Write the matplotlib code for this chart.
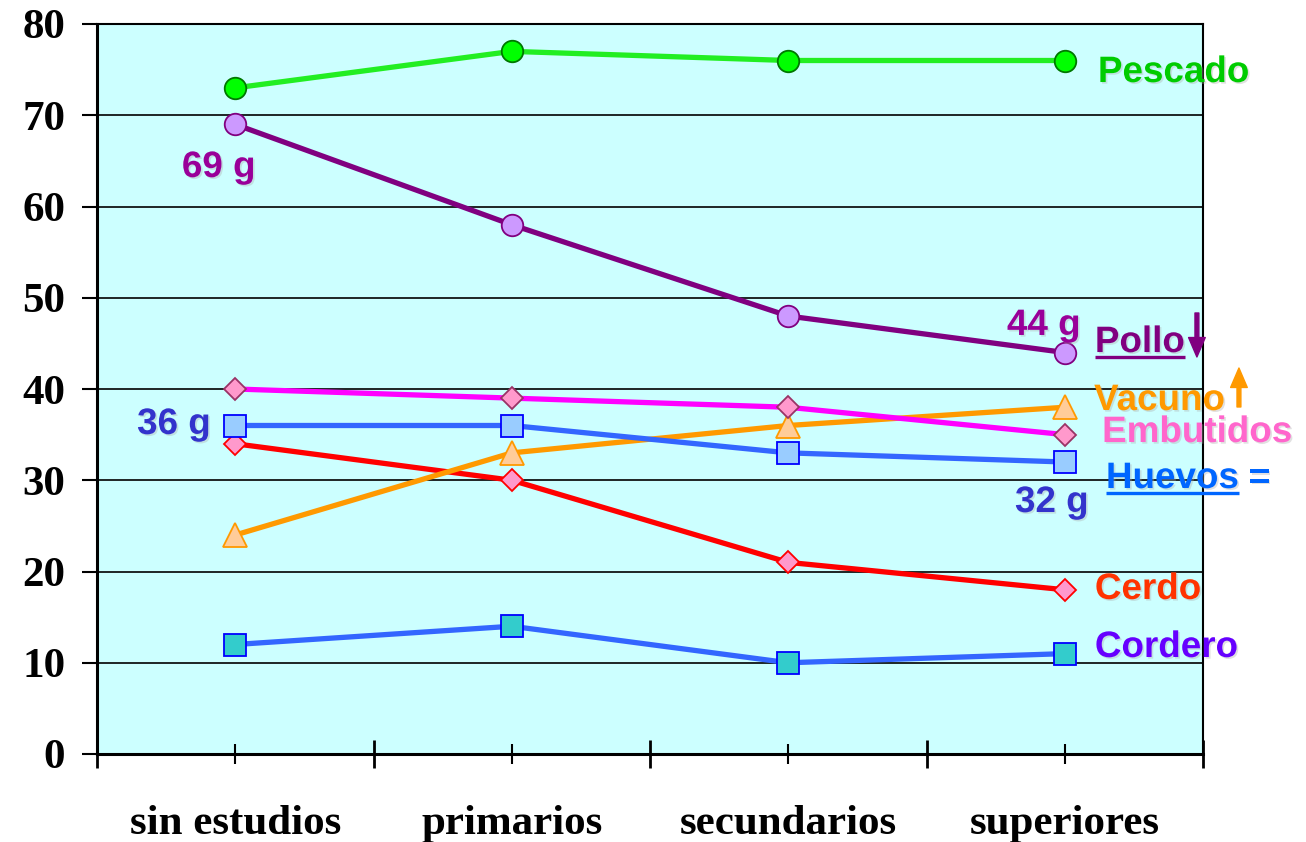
import matplotlib
matplotlib.use("Agg")
import matplotlib.pyplot as plt
import matplotlib.patheffects as pe
from matplotlib.ticker import FixedLocator, NullFormatter

# Consumo medio (g) por nivel de estudios
categorias = ["sin estudios", "primarios", "secundarios", "superiores"]
pescado = [73, 77, 76, 76]
pollo = [69, 58, 48, 44]
embutidos = [40, 39, 38, 35]
huevos = [36, 36, 33, 32]
vacuno = [24, 33, 36, 38]
cerdo = [34, 30, 21, 18]
cordero = [12, 14, 10, 11]
y_ticks = [0, 10, 20, 30, 40, 50, 60, 70, 80]

W, H, DPI = 1306, 842, 100
fig = plt.figure(figsize=(W / DPI, H / DPI), dpi=DPI)
ax = fig.add_axes([97 / W, (H - 754) / H, (1203 - 97) / W, (754 - 24) / H])
ax.set_facecolor("#CCFFFF")

x = [i + 0.5 for i in range(len(categorias))]

series = [
    # values, line colour, marker, face, edge, size
    (cordero, "#3366FF", "s", "#33CCCC", "#0000FF", 15.5),
    (cerdo, "#FF0000", "D", "#FF99CC", "#FF0000", 11.0),
    (vacuno, "#FF9900", "^", "#FFCC99", "#FF9900", 17.0),
    (huevos, "#3366FF", "s", "#99CCFF", "#0000FF", 15.5),
    (embutidos, "#FF00FF", "D", "#FF99CC", "#993366", 11.0),
    (pollo, "#800080", "o", "#CC99FF", "#800080", 15.5),
    (pescado, "#22EE22", "o", "#00FF00", "#007700", 15.5),
]
for vals, lc, mk, fc, ec, ms in series:
    ax.plot(x, vals, color=lc, lw=3.8, marker=mk, ms=ms, mfc=fc, mec=ec,
            mew=1.3, zorder=3, solid_capstyle="round")

ax.set_xlim(0, 4)
ax.set_ylim(0, 80)

# axis ticks
serif = dict(family="Liberation Serif", weight="bold", size=31)
ax.yaxis.set_major_locator(FixedLocator(y_ticks))
ax.set_yticklabels([str(v) for v in y_ticks], fontdict=serif)
ax.tick_params(axis="y", direction="out", length=10.8, width=1.5, pad=12)

ax.xaxis.set_major_locator(FixedLocator(x))
ax.set_xticklabels(categorias, fontdict=serif)
ax.xaxis.set_minor_locator(FixedLocator([0, 1, 2, 3, 4]))
ax.xaxis.set_minor_formatter(NullFormatter())
ax.tick_params(axis="x", which="major", direction="inout", length=15, width=1.5, pad=29)
ax.tick_params(axis="x", which="minor", direction="inout", length=20, width=2)

ax.yaxis.grid(True, color="black", lw=1.2)
ax.set_axisbelow(True)
for side, lw in [("left", 2.2), ("bottom", 2.2), ("top", 1.5), ("right", 1.5)]:
    ax.spines[side].set_linewidth(lw)
    ax.spines[side].set_color("black")

# series labels and values
sans = dict(family="Liberation Sans", weight="bold", size=26.5)
shadow = [pe.SimplePatchShadow(offset=(1.2, -1.2), shadow_rgbFace="#aaaaaa", alpha=0.35), pe.Normal()]


def label(xd, yd, s, color, **kw):
    return ax.text(xd, yd, s, color=color, va="baseline", ha="left",
                   clip_on=False, zorder=5, path_effects=shadow, **sans, **kw)


label(3.620, 73.64, "Pescado", "#00CC00")
t_pollo = label(3.609, 44.05, "Pollo", "#800080")
label(3.606, 37.70, "Vacuno", "#FF9900")
label(3.635, 34.19, "Embutidos", "#FF66CC")
t_huevos = label(3.649, 29.15, "Huevos", "#0066FF")
label(4.165, 29.15, "=", "#0066FF")
label(3.609, 16.99, "Cerdo", "#FF3300")
label(3.609, 10.63, "Cordero", "#6600FF")

label(0.307, 63.23, "69 g", "#990099")
label(3.291, 45.92, "44 g", "#990099")
label(0.145, 35.07, "36 g", "#3333CC")
label(3.320, 26.52, "32 g", "#3333CC")

# trend arrows
ax.annotate("", xy=(3.978, 43.51), xytext=(3.978, 48.33), annotation_clip=False,
            arrowprops=dict(color="#800080", width=2.8, headwidth=12, headlength=14, shrink=0))
ax.annotate("", xy=(4.130, 42.30), xytext=(4.130, 38.03), annotation_clip=False,
            arrowprops=dict(color="#FF9900", width=2.8, headwidth=12, headlength=14, shrink=0))

# underlines below "Pollo" and "Huevos"
fig.canvas.draw()
inv = ax.transData.inverted()
for t, yb, col in [(t_pollo, 44.05, "#800080"), (t_huevos, 29.15, "#0066FF")]:
    bb = t.get_window_extent()
    x0 = inv.transform((bb.x0, 0))[0]
    x1 = inv.transform((bb.x1, 0))[0]
    ax.plot([x0, x1], [yb - 0.58, yb - 0.58], color=col, lw=2.4,
            clip_on=False, zorder=5, solid_capstyle="butt")

fig.savefig("out.png", dpi=DPI)
